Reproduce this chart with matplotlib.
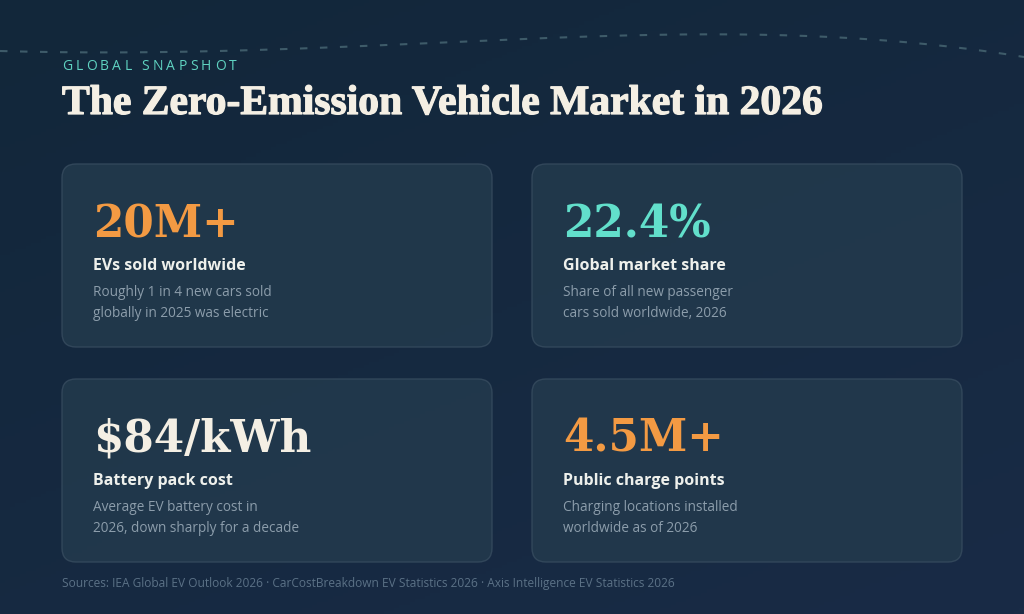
import numpy as np
import matplotlib
matplotlib.use("Agg")
import matplotlib.pyplot as plt
import matplotlib.patheffects as pe
from matplotlib.patches import FancyBboxPatch
from matplotlib.colors import LinearSegmentedColormap

# ---- data ----
kicker = "GLOBAL SNAPSHOT"
title = "The Zero-Emission Vehicle Market in 2026"
values = ["20M+", "22.4%", "$84/kWh", "4.5M+"]
labels = ["EVs sold worldwide", "Global market share", "Battery pack cost", "Public charge points"]
descs = [
    "Roughly 1 in 4 new cars sold\nglobally in 2025 was electric",
    "Share of all new passenger\ncars sold worldwide, 2026",
    "Average EV battery cost in\n2026, down sharply for a decade",
    "Charging locations installed\nworldwide as of 2026",
]
value_colors = ["#f39a43", "#62dfcb", "#f4efe4", "#f39a43"]
sources = "Sources: IEA Global EV Outlook 2026 \u00b7 CarCostBreakdown EV Statistics 2026 \u00b7 Axis Intelligence EV Statistics 2026"

W, H = 1024, 614
fig = plt.figure(figsize=(W / 100, H / 100), dpi=100)
ax = fig.add_axes([0, 0, 1, 1])
ax.set_xlim(0, W)
ax.set_ylim(H, 0)
ax.axis("off")

# background gradient
yy, xx = np.mgrid[0:1:200j, 0:1:200j]
g = 0.6 * yy + 0.4 * xx
cmap = LinearSegmentedColormap.from_list("bg", ["#12273a", "#192b46"])
ax.imshow(g, cmap=cmap, extent=[0, W, H, 0], aspect="auto", zorder=0)

# dashed decorative curve (smooth cubic Bezier)
t = np.linspace(0, 1, 400)
P = np.array([[0, 51], [400, 62], [700, 4], [1024, 57]], dtype=float)
bez = ((1 - t) ** 3)[:, None] * P[0] + (3 * (1 - t) ** 2 * t)[:, None] * P[1] \
    + (3 * (1 - t) * t ** 2)[:, None] * P[2] + (t ** 3)[:, None] * P[3]
ax.plot(bez[:, 0], bez[:, 1], color="#3e5b69", lw=1.5, ls=(0, (3.6, 6.0)), zorder=1)

fig.canvas.draw()
r = fig.canvas.get_renderer()

# kicker with letter spacing
x = 62
for ch in kicker:
    tt = ax.text(x, 67, ch, color="#5fd3c1", fontsize=10, family="Open Sans",
                 va="center", ha="left", zorder=3)
    bb = tt.get_window_extent(renderer=r)
    x += bb.width + 3.3

# title, fitted to the reference width
tt = ax.text(62, 114, title, color="#f4efe4", fontsize=27, family="Liberation Serif",
             fontweight="bold", va="baseline", ha="left", zorder=3,
             path_effects=[pe.withStroke(linewidth=0.9, foreground="#f4efe4")])
w = tt.get_window_extent(renderer=r).width
tt.set_fontsize(27 * 760 / w)

# cards
cards = [(62, 164), (532, 164), (62, 379), (532, 379)]
cw, ch_ = 430, 183
for i, (x0, y0) in enumerate(cards):
    p = FancyBboxPatch((x0, y0), cw, ch_, boxstyle="round,pad=0,rounding_size=14",
                       facecolor="#233a4d", edgecolor="#364b5e", lw=1.0, alpha=0.85, zorder=2)
    ax.add_patch(p)
    tx = x0 + 31
    ax.text(tx, y0 + 73, values[i], color=value_colors[i], fontsize=31.5,
            family="DejaVu Serif", fontweight="bold", va="baseline", ha="left", zorder=3)
    ax.text(tx, y0 + 102, labels[i], color="#eef0ec", fontsize=11.5,
            family="Open Sans", fontweight="bold", va="center", ha="left", zorder=3)
    ax.text(tx, y0 + 121, descs[i], color="#8c9dab", fontsize=9.8,
            family="Open Sans", va="top", ha="left", linespacing=1.55, zorder=3)

st = ax.text(62, 583, sources, color="#5b7186", fontsize=8.3, family="Open Sans",
             va="center", ha="left", zorder=3)
w = st.get_window_extent(renderer=r).width
st.set_fontsize(8.3 * 616 / w)

fig.savefig("out.png", dpi=100)
